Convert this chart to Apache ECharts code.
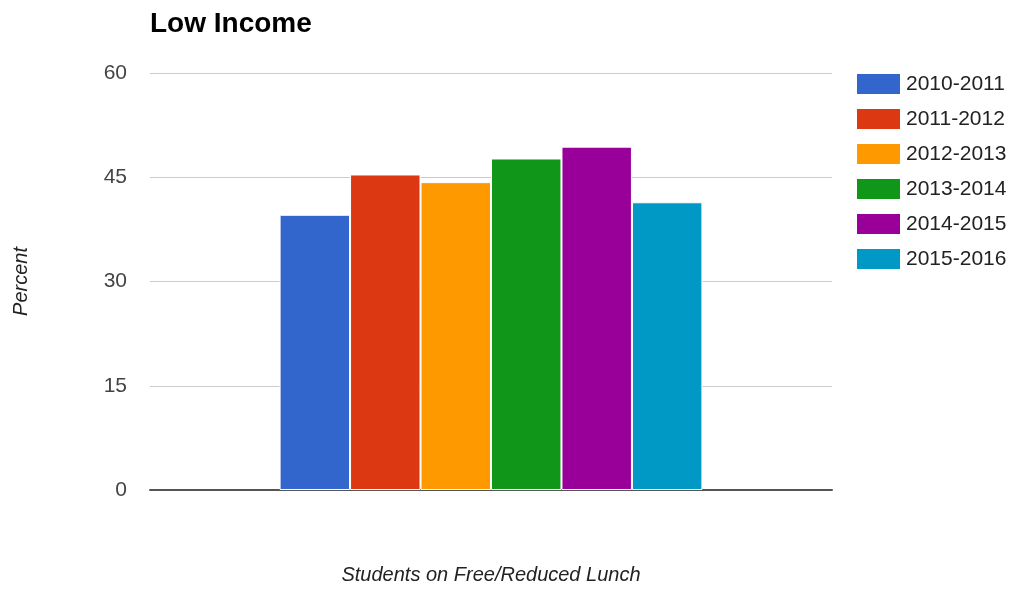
<!DOCTYPE html>
<html>
<head>
<meta charset="utf-8">
<title>Low Income</title>
<script src="https://cdn.jsdelivr.net/npm/echarts@6/dist/echarts.min.js"></script>
<style>
  html, body { margin: 0; padding: 0; background: #fff; }
  #chart { width: 1019px; height: 590px; }
</style>
</head>
<body>
<div id="chart"></div>
<script>
// School years shown as separate bars within one group
const categories = ['Students on Free/Reduced Lunch'];
const schoolYears = ['2010-2011', '2011-2012', '2012-2013', '2013-2014', '2014-2015', '2015-2016'];
// Percent of students on free/reduced lunch, one value per school year
const percentValues = [39.6, 45.4, 44.3, 47.7, 49.4, 41.4];
const yTicks = [0, 15, 30, 45, 60];

const palette = ['#3366cc', '#dc3912', '#ff9900', '#109618', '#990099', '#0099c6'];
const fontFamily = 'Liberation Sans, Arial, sans-serif';

const chart = echarts.init(document.getElementById('chart'), null, { renderer: 'canvas' });

chart.setOption({
  animation: false,
  color: palette,
  textStyle: { fontFamily: fontFamily },
  title: {
    text: 'Low Income',
    left: 150,
    top: 10,
    padding: 0,
    textStyle: { fontSize: 28, fontWeight: 'bold', color: '#000', fontFamily: fontFamily }
  },
  legend: {
    orient: 'vertical',
    left: 855,
    top: 72,
    padding: 0,
    itemWidth: 45,
    itemHeight: 22,
    itemGap: 11,
    icon: 'rect',
    textStyle: { fontSize: 21, lineHeight: 22, color: '#222', padding: [0, 0, 0, 0] },
    data: schoolYears
  },
  grid: {
    left: 150,
    right: 187,
    top: 73,
    bottom: 92
  },
  xAxis: {
    type: 'category',
    data: categories,
    name: 'Students on Free/Reduced Lunch',
    nameLocation: 'middle',
    nameGap: 75,
    nameTextStyle: { fontSize: 20, fontStyle: 'italic', color: '#222' },
    axisLine: { lineStyle: { color: '#555', width: 2 } },
    axisTick: { show: false },
    axisLabel: { show: false }
  },
  yAxis: {
    type: 'value',
    min: yTicks[0],
    max: yTicks[yTicks.length - 1],
    interval: 15,
    name: 'Percent',
    nameLocation: 'middle',
    nameGap: 119,
    nameTextStyle: { fontSize: 20, fontStyle: 'italic', color: '#222' },
    axisLine: { show: false },
    axisTick: { show: false },
    axisLabel: { fontSize: 21, color: '#444', margin: 23 },
    splitLine: { lineStyle: { color: '#cccccc', width: 1 } }
  },
  series: schoolYears.map((year, i) => ({
    name: year,
    type: 'bar',
    data: [percentValues[i]],
    barGap: '0%',
    barCategoryGap: '38%',
    itemStyle: { color: palette[i], borderColor: '#ffffff', borderWidth: 1 }
  }))
});
</script>
</body>
</html>
